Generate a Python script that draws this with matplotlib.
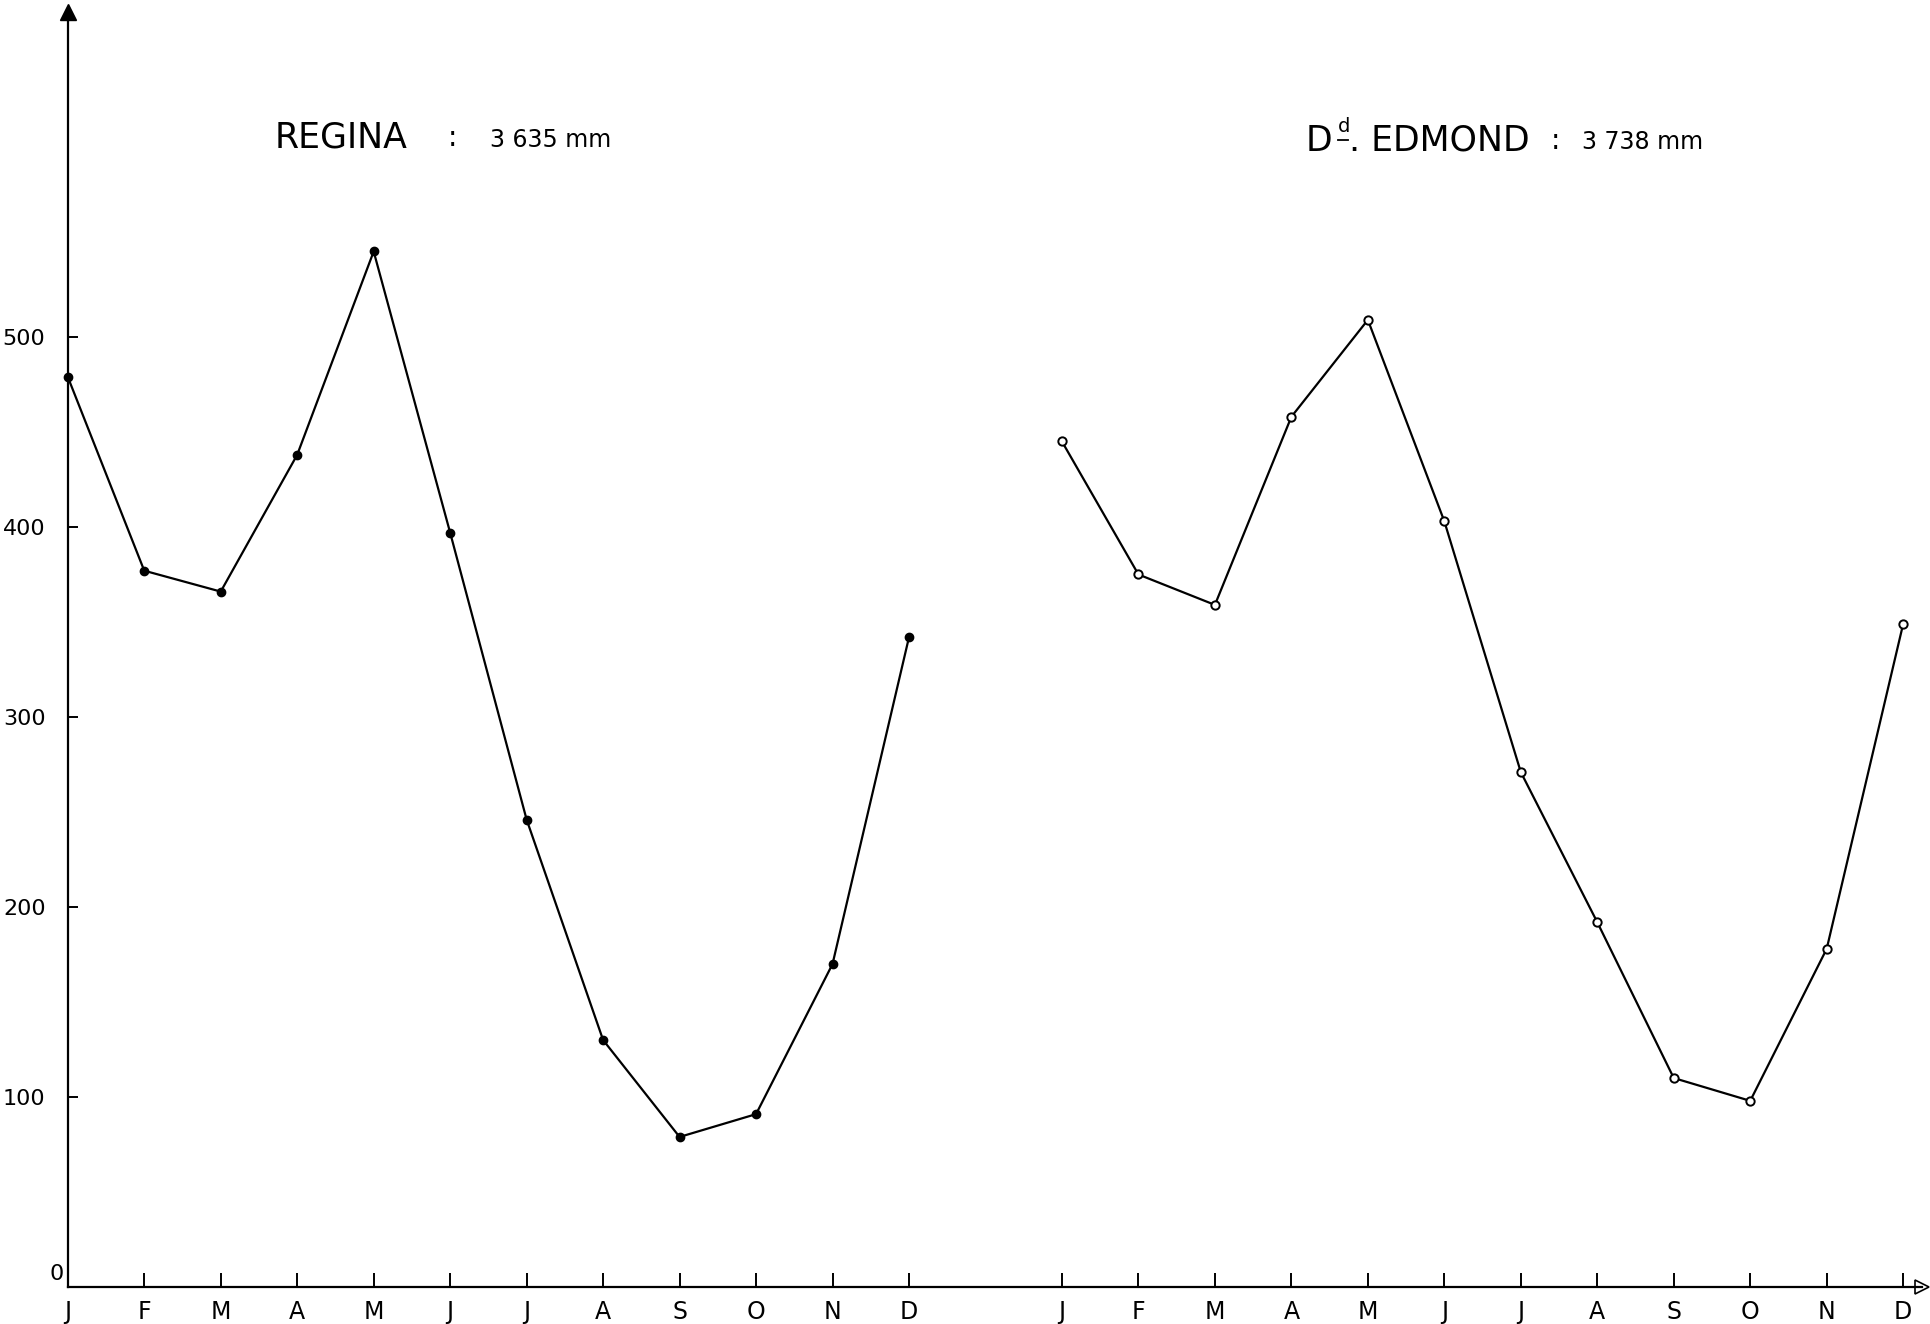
import numpy as np
import matplotlib
matplotlib.use('Agg')
import matplotlib.pyplot as plt

months = ['J', 'F', 'M', 'A', 'M', 'J', 'J', 'A', 'S', 'O', 'N', 'D']
regina = [479, 377, 366, 438, 545, 397, 246, 130, 79, 91, 170, 342]
edmond = [445, 375, 359, 458, 509, 403, 271, 192, 110, 98, 178, 349]
regina_total = '3 635 mm'
edmond_total = '3 738 mm'
yticks = [100, 200, 300, 400, 500]

plt.rcParams['font.family'] = ['DejaVu Sans']

fig = plt.figure(figsize=(19.31, 13.24), dpi=100)
ax = fig.add_axes([0.0351, 0.0279, 0.96, 0.963])

x1 = np.arange(12)
x2 = np.arange(12) + 13
ax.plot(x1, regina, color='black', lw=1.6, marker='o', ms=6, mfc='black', mec='black', clip_on=False)
ax.plot(x2, edmond, color='black', lw=1.6, marker='o', ms=6, mfc='white', mec='black', mew=1.4, clip_on=False)

ax.set_xlim(0, 24.24)
ax.set_ylim(0, 671)
for s in ['top', 'right']:
    ax.spines[s].set_visible(False)
for s in ['left', 'bottom']:
    ax.spines[s].set_linewidth(1.6)

ax.set_xticks(list(x1) + list(x2))
ax.set_xticklabels(months + months, fontsize=17)
ax.set_yticks(yticks)
ax.set_yticklabels([str(v) for v in yticks], fontsize=16)
ax.tick_params(axis='x', direction='in', length=10, width=1.4, pad=9)
ax.tick_params(axis='y', direction='in', length=7, width=1.4, pad=16)
# origin label sits close to the axis
ax.annotate('0', xy=(0, 0), xytext=(-3, 2), textcoords='offset points',
            ha='right', va='bottom', fontsize=16, annotation_clip=False)

# arrow heads on axes
ax.plot([0], [1], marker='^', ms=12, color='black', transform=ax.transAxes, clip_on=False)
ax.plot([1], [0], marker='>', ms=10, mfc='white', mec='black', mew=1.2, transform=ax.transAxes, clip_on=False)

# station titles
fig.text(0.1422, 0.8958, 'REGINA', fontsize=25, va='center')
fig.text(0.232, 0.8958, ':', fontsize=20, va='center')
fig.text(0.2538, 0.8945, regina_total, fontsize=17, va='center')

fig.text(0.676, 0.8938, 'D', fontsize=25, va='center')
fig.text(0.6928, 0.9045, 'd', fontsize=14, va='center')
fig.add_artist(plt.Line2D([0.6928, 0.6982], [0.8945, 0.8945], color='black', lw=1.3))
fig.text(0.6985, 0.8938, '. EDMOND', fontsize=25, va='center')
fig.text(0.803, 0.8938, ':', fontsize=20, va='center')
fig.text(0.8195, 0.8925, edmond_total, fontsize=17, va='center')

fig.savefig('out.png', dpi=100, facecolor='white')
